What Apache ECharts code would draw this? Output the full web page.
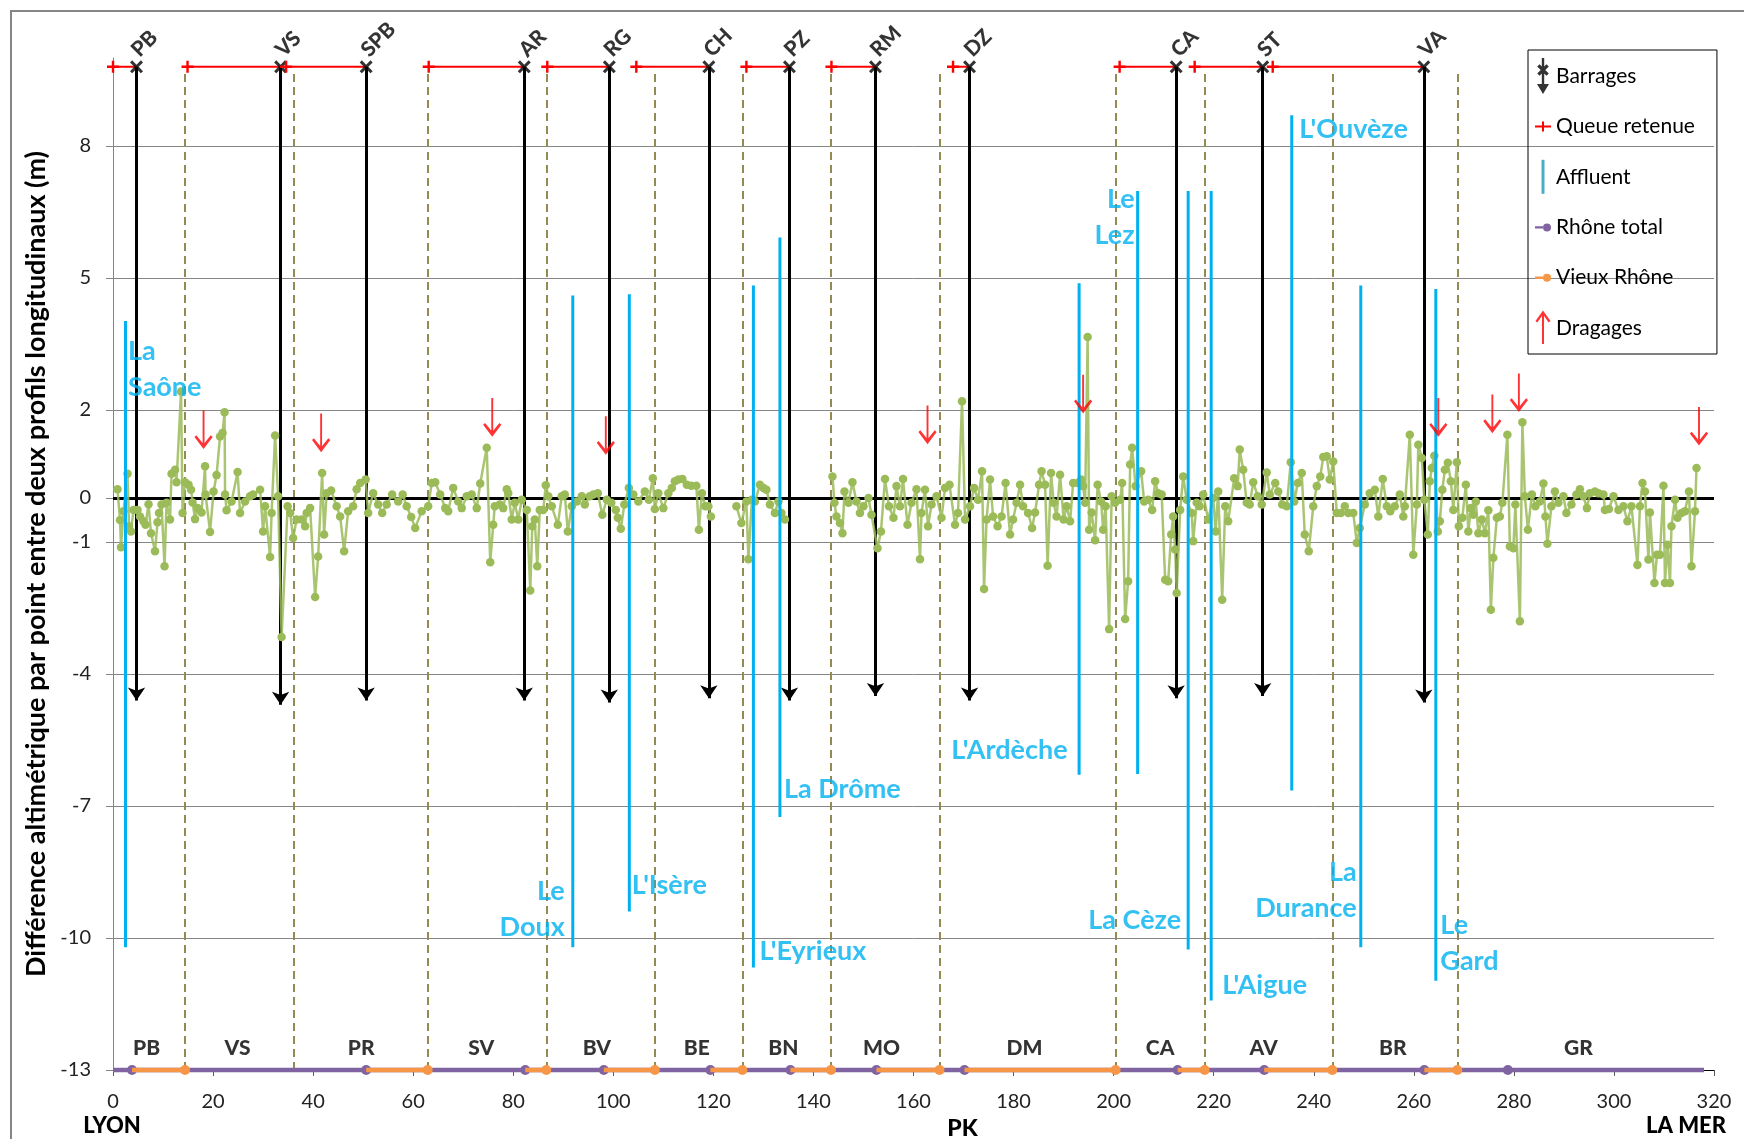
<!DOCTYPE html>
<html>
<head>
<meta charset="utf-8">
<title>Profils en long du Rhône</title>
<script src="https://cdn.jsdelivr.net/npm/echarts@6/dist/echarts.min.js"></script>
<style>
  html, body { margin: 0; padding: 0; background: #fff; }
  #chart { width: 1744px; height: 1139px; }
</style>
</head>
<body>
<div id="chart"></div>
<script>
const FONT = 'Lato, "Open Sans", sans-serif';

// ---- données ----
// écart entre deux profils : [PK (km), différence (m)], null = pas de mesure
const profil = [
  [0.9,0.20],[1.4,-0.50],[1.6,-1.12],[2.1,-0.30],[2.9,0.55],[3.2,-0.64],[3.6,-0.76],[4.1,-0.27],[4.9,-0.27],[5.4,-0.42],
  [6.1,-0.53],[6.5,-0.61],[7.1,-0.14],[7.6,-0.80],[8.4,-1.21],[8.9,-0.55],[9.2,-0.34],[9.7,-0.15],[10.3,-1.55],[10.7,-0.11],
  [11.4,-0.49],[11.7,0.55],[12.4,0.64],[12.7,0.36],[13.6,2.42],[13.9,-0.34],[14.4,0.36],[15.1,0.30],[15.6,0.19],[15.9,-0.10],
  [16.4,-0.48],[16.9,-0.23],[17.7,-0.33],[18.4,0.72],[18.5,0.08],[19.4,-0.77],[20.1,0.15],[20.7,0.52],[21.4,1.40],[21.9,1.48],
  [22.3,1.95],[22.4,0.08],[22.7,-0.28],[23.7,-0.08],[24.9,0.59],[25.4,-0.34],[26.4,-0.08],[27.4,0.04],[28.0,0.08],[29.4,0.19],
  [30.0,-0.76],[30.4,-0.19],[31.4,-1.34],[31.7,-0.34],[32.4,1.42],[33.0,0.04],[33.7,-3.16],[34.9,-0.19],[35.4,-0.34],[36.0,-0.91],
  [36.7,-0.49],[37.7,-0.49],[38.4,-0.64],[38.7,-0.34],[39.4,-0.23],[40.4,-2.25],[41.0,-1.33],[41.8,0.57],[42.2,-0.83],[42.7,0.11],
  [43.6,0.17],[44.7,-0.19],[45.4,-0.42],[46.2,-1.21],[47.0,-0.30],[48.0,-0.19],[48.7,0.20],[49.4,0.34],[50.5,0.42],[51.0,-0.34],
  [52.0,0.11],[53.0,-0.15],[53.8,-0.34],[54.7,-0.15],[55.8,0.08],[57.0,-0.08],[57.9,0.08],[58.7,-0.19],[59.6,-0.43],[60.4,-0.68],
  [61.7,-0.30],[63.0,-0.19],[63.7,0.34],
  [64.4,0.36],[65.4,0.08],[66.4,-0.23],[67.0,-0.30],[68.0,0.23],[69.0,-0.08],[69.7,-0.23],[70.7,0.04],[71.7,0.08],[72.7,-0.23],
  [73.4,0.33],[74.7,1.14],[75.4,-1.46],[76.0,-0.61],[76.3,-0.19],[77.3,-0.15],[78.0,-0.23],[78.7,0.20],[79.0,0.11],[79.7,-0.49],
  [80.3,-0.11],[81.0,-0.49],[81.7,-0.04],[82.7,-0.27],[83.4,-2.10],[83.8,-0.64],[84.3,-0.49],[84.8,-1.55],[85.3,-0.27],[86.0,-0.27],
  [86.5,0.29],[87.0,0.04],[87.7,-0.19],[88.9,-0.61],[89.7,0.04],[90.3,0.08],[90.9,-0.76],[91.7,-0.19],[92.7,-0.08],[93.7,0.04],
  [94.3,-0.15],[95.3,0.04],[96.0,0.08],[96.9,0.11],[97.8,-0.38],[98.7,-0.04],[99.6,-0.11],[100.5,-0.27],[100.9,-0.45],[101.5,-0.70],
  [102.2,-0.15],[103.1,0.23],[104.0,0.08],[105.0,-0.08],[106.3,0.15],[107.1,-0.04],[107.9,0.45],[108.3,-0.25],[109.0,0.11],[110.0,-0.23],
  [111.0,0.11],[111.7,0.23],[112.3,0.38],[113.0,0.42],[113.8,0.43],[114.7,0.30],[115.6,0.28],[116.6,0.28],[117.1,-0.72],[117.7,0.11],
  [118.4,-0.19],[119.0,-0.19],[119.5,-0.42],[122.0,null],
  [124.6,-0.19],[125.6,-0.57],[126.6,-0.08],[127.0,-1.39],[127.7,-0.04],
  [128.3,-0.08],[129.3,0.30],[130.0,0.23],[130.6,0.19],[131.3,-0.15],[132.3,-0.34],[133.0,-0.08],[133.6,-0.34],[134.3,-0.49],[139.0,null],
  [143.8,0.49],[144.2,-0.11],[144.6,-0.42],[145.3,-0.57],[145.8,-0.80],[146.2,0.15],[147.0,-0.11],[147.8,0.36],[148.6,-0.08],[149.3,-0.34],
  [150.0,-0.19],[151.0,0.00],[151.6,-0.38],[152.8,-1.14],[153.5,-0.76],[154.3,0.43],[155.1,-0.19],[156.0,-0.45],[156.6,0.27],[157.3,-0.19],
  [157.9,0.43],[158.8,-0.61],[159.6,-0.11],[160.6,0.20],[161.3,-1.39],[161.6,-0.34],[162.3,0.19],[162.9,-0.64],[163.6,-0.15],[164.6,0.04],
  [165.6,-0.45],[166.3,0.23],[167.2,0.30],[168.3,-0.61],[168.9,-0.34],[169.7,2.20],[170.3,-0.49],[171.3,-0.19],[172.1,0.23],[172.9,-0.04],
  [173.7,0.61],[174.1,-2.07],[174.6,-0.49],[175.3,0.42],[175.9,-0.42],[176.8,-0.64],[177.6,-0.42],[178.4,0.34],[179.3,-0.83],[179.9,-0.49],
  [180.6,-0.11],[181.3,0.30],[181.9,-0.19],[182.9,-0.34],[183.7,-0.68],[184.3,-0.33],[185.1,0.30],[185.6,0.61],[186.3,0.30],[186.8,-1.54],
  [187.5,0.57],[188.0,-0.11],[188.6,-0.42],[189.3,0.53],[190.0,-0.49],[190.6,-0.19],[191.3,-0.53],[191.9,0.34],
  [192.8,0.34],[193.5,0.42],[193.9,0.27],[194.3,-0.11],[194.8,3.66],[195.1,-0.72],[195.6,-0.33],[196.3,-0.96],[196.8,0.30],[197.5,-0.08],
  [197.9,-0.72],[198.4,-0.19],[199.1,-2.98],[199.6,0.04],[200.3,-0.11],[201.3,-0.04],[201.7,0.34],[202.3,-2.75],[202.9,-1.89],[203.3,0.76],
  [203.7,1.14],[204.4,0.27],[205.5,0.61],[206.1,-0.08],[206.9,-0.04],[207.7,-0.27],[208.3,0.38],[208.9,0.11],[209.6,0.08],[210.3,-1.86],
  [210.9,-1.89],[211.5,-0.83],[211.9,-0.42],[212.3,-1.17],[212.6,-2.16],[213.3,-0.27],[213.9,0.49],[214.6,-0.04],[215.6,-0.34],[215.9,-0.98],
  [216.6,-0.11],[217.2,-0.19],[217.9,0.08],[218.9,-0.49],[219.9,0.00],[220.4,-0.76],[220.9,0.15],[221.7,-2.31],[222.3,-0.19],[222.9,-0.53],
  [224.1,0.45],[224.8,0.27],[225.2,1.10],[225.9,0.64],[226.6,-0.11],[227.2,-0.15],[227.9,0.36],[228.8,0.04],[229.6,-0.15],[230.6,0.58],
  [231.2,0.08],[232.3,0.34],[232.9,0.15],[233.7,-0.15],[234.6,-0.19],[235.4,0.81],[236.1,-0.08],[236.8,0.34],[237.6,0.57],[238.2,-0.83],
  [239.0,-1.21],[239.9,-0.19],[240.6,0.27],[241.3,0.49],[241.9,0.93],[242.6,0.95],[243.2,0.42],[243.9,0.83],[244.6,-0.34],[245.4,-0.34],
  [246.2,-0.19],[246.9,-0.34],[247.9,-0.34],[248.6,-1.02],[249.2,-0.68],[250.2,-0.15],[251.2,0.11],[252.2,0.19],[252.9,-0.42],[253.8,0.43],
  [254.6,-0.19],[255.3,-0.30],
  [256.2,-0.19],[257.2,0.08],[257.9,-0.42],[258.2,-0.19],[259.2,1.44],[259.9,-1.29],[260.6,-0.15],[260.9,1.21],[261.6,0.91],[262.1,-0.04],
  [262.8,-0.83],[263.2,0.38],[263.6,0.68],[264.1,0.96],[264.8,-0.76],[265.2,-0.53],[265.7,0.19],[266.2,0.64],[266.8,0.80],[267.4,0.38],
  [267.9,-0.27],[268.6,0.81],[269.0,-0.64],[269.7,-0.45],[270.4,0.30],[270.9,-0.76],[271.4,-0.23],[271.9,-0.38],[272.4,-0.08],[272.9,-0.80],
  [273.6,-0.49],[274.2,-0.80],[274.9,-0.28],[275.4,-2.54],[275.9,-1.36],[276.6,-0.45],[277.2,-0.42],[277.7,-0.11],[278.7,1.44],[279.2,-1.10],
  [279.9,-1.14],[280.3,-0.15],[281.2,-2.80],[281.7,1.72],[282.2,0.04],[282.8,-0.72],[283.6,0.08],[284.3,-0.19],[285.2,-0.08],[285.9,0.33],
  [286.3,-0.42],[286.7,-1.04],[287.5,-0.19],[288.2,0.15],[288.9,-0.11],[289.9,0.04],[290.5,-0.34],[291.5,-0.15],[292.5,0.08],[293.2,0.20],
  [293.9,0.04],[294.6,-0.23],[295.2,0.11],[296.2,0.15],[296.9,0.11],[297.9,0.08],[298.2,-0.27],[299.0,-0.25],[299.9,0.04],[300.9,-0.27],
  [301.9,-0.19],[302.7,-0.53],[303.5,-0.19],[304.7,-1.52],[305.2,-0.19],[305.7,0.34],[306.2,0.15],[306.9,-1.40],[307.2,-0.33],[308.1,-1.93],
  [308.6,-1.29],[309.2,-1.29],[309.9,0.28],[310.2,-1.93],[310.7,-1.06],[311.2,-1.93],[311.5,-0.64],[312.2,-0.04],[312.7,-0.45],[313.5,-0.34],
  [314.2,-0.30],[315.0,0.15],[315.5,-1.55],[316.2,-0.30],[316.5,0.68]
];

// barrages
const barrageNoms = ['PB', 'VS', 'SPB', 'AR', 'RG', 'CH', 'PZ', 'RM', 'DZ', 'CA', 'ST', 'VA'];
const barragePk = [4.7, 33.5, 50.6, 82.2, 99.2, 119.1, 135.2, 152.4, 171.2, 212.5, 229.8, 262.0];
const barrageBas = [-4.6, -4.7, -4.6, -4.6, -4.65, -4.55, -4.6, -4.5, -4.6, -4.55, -4.5, -4.65];
const niveauCrete = 9.8;

// queues de retenue (début de chaque retenue, fin = barrage suivant)
const queuePk = [0, 14.9, 34.6, 63.1, 86.8, 104.6, 126.6, 143.6, 167.9, 201.2, 216.2, 231.8];

// tronçons
const troncons = ['PB', 'VS', 'PR', 'SV', 'BV', 'BE', 'BN', 'MO', 'DM', 'CA', 'AV', 'BR', 'GR'];
const tronconCentre = [6.7, 24.9, 49.6, 73.6, 96.7, 116.7, 134.0, 153.6, 182.2, 209.3, 230.0, 255.8, 292.9];
const limitesTroncons = [14.4, 36.2, 62.9, 86.6, 108.3, 125.8, 143.5, 165.2, 200.4, 218.2, 243.7, 268.7];
const niveauTroncon = -12.5;
const hautLimites = 9.65;

// affluents
const affluentTexte = ['La\nSaône', 'Le\nDoux', "L'Isère", "L'Eyrieux", 'La Drôme', "L'Ardèche",
  'Le\nLez', 'La Cèze', "L'Aigue", "L'Ouvèze", 'La\nDurance', 'Le\nGard'];
const affluentPk = [2.5, 91.9, 103.2, 128.0, 133.3, 193.1, 204.8, 214.9, 219.5, 235.6, 249.4, 264.4];
const affluentHaut = [4.02, 4.6, 4.63, 4.83, 5.92, 4.88, 6.98, 6.98, 6.98, 8.7, 4.83, 4.75];
const affluentBas = [-10.21, -10.21, -9.4, -10.67, -7.25, -6.29, -6.27, -10.26, -11.42, -6.65, -10.21, -10.97];

// dragages
const dragagePk = [18.1, 41.6, 75.8, 98.5, 162.8, 193.9, 264.9, 275.7, 281.0, 317.0];
const dragageHaut = [1.99, 1.92, 2.27, 1.86, 2.1, 2.8, 2.27, 2.35, 2.83, 2.07];

// Rhône total / Vieux Rhône (ligne de base)
const niveauBase = -13;
const rhoneTotalPk = [0, 3.8, 50.6, 82.4, 98.1, 119.4, 135.4, 152.6, 170.2, 212.8, 230.1, 262.1, 278.8, 318];
const vieuxRhoneDebut = [3.8, 50.6, 82.4, 98.1, 119.4, 135.4, 152.6, 170.2, 212.8, 230.1, 262.1];
const vieuxRhoneFin = [14.4, 62.9, 86.6, 108.3, 125.8, 143.5, 165.2, 200.4, 218.2, 243.7, 268.7];

// axe Y
const yLabels = [-13, -10, -7, -4, -1, 0, 2, 5, 8];
const yGrille = [-10, -7, -4, -1, 2, 5, 8];

// ---- placement des étiquettes d'affluents : [pk, valeur, côté] ----
const affluentEtiquette = [
  [3.0, 2.93, 'right'], [90.3, -9.35, 'left'], [103.7, -8.8, 'right'], [129.2, -10.31, 'right'],
  [134.1, -6.62, 'right'], [190.8, -5.74, 'left'], [204.2, 6.37, 'left'], [213.5, -9.6, 'left'],
  [221.7, -11.07, 'right'], [237.1, 8.37, 'right'], [248.6, -8.92, 'left'], [265.3, -10.11, 'right']
];

// ---- symboles ----
const SYM_X = 'path://M2 0L6 4L10 0L12 2L8 6L12 10L10 12L6 8L2 12L0 10L4 6L0 2Z';
const SYM_PLUS = 'path://M4 0h2v4h4v2h-4v4h-2v-4h-4v-2h4z';
const SYM_DRAGAGE = 'path://M0 0M20 40M9 0h2v36h-2zM0.4 27.2L2.4 25.4L10 34.6L17.6 25.4L19.6 27.2L10 39.6Z';
const ICON_BARRAGE = 'path://M0 0M16 36M6.8 0h2.4v27h-2.4zM2 26h12l-6 10zM2.2 8.6L4.6 6.2L13.8 15.4L11.4 17.8ZM11.4 6.2L13.8 8.6L4.6 17.8L2.2 15.4Z';
const ICON_QUEUE = 'path://M0 0M16 36M0 17h16v2h-16zM7 13h2v10h-2z';
const ICON_AFFLUENT = 'path://M0 0M16 36M6.5 1h3v34h-3z';
const ICON_RHONE = 'path://M0 0M16 36M0 17h8.2v2.4h-8.2zM8 18.2a4 4 0 1 0 8 0a4 4 0 1 0 -8 0z';
const ICON_DRAGAGE = 'path://M0 0M16 36M8 0.4L15.5 11L13.7 12.6L8 4.6L2.3 12.6L0.5 11ZM7 4.6h2v29.4h-2z';

const chart = echarts.init(document.getElementById('chart'));

const option = {
  animation: false,
  textStyle: { fontFamily: FONT },
  graphic: [
    { type: 'rect', z: -10, silent: true,
      shape: { x: 11, y: 11, width: 1800, height: 1200 },
      style: { fill: 'none', stroke: '#868686', lineWidth: 2 } },
    { type: 'text', x: 112, y: 1126, silent: true,
      style: { text: 'LYON', font: '900 22px ' + FONT, fill: '#000', align: 'center', verticalAlign: 'middle' } },
    { type: 'text', x: 1686, y: 1126, silent: true,
      style: { text: 'LA MER', font: '900 22px ' + FONT, fill: '#000', align: 'center', verticalAlign: 'middle' } }
  ],
  grid: { left: 113, right: 30, top: 58, bottom: 69, outerBoundsMode: 'none' },
  legend: {
    orient: 'vertical',
    left: 1528,
    top: 50,
    itemWidth: 16,
    itemHeight: 36,
    itemGap: 14.4,
    padding: [8, 22, 8, 7],
    borderColor: '#000',
    borderWidth: 1,
    selectedMode: false,
    textStyle: { fontFamily: FONT, fontSize: 21, color: '#000' },
    data: [
      { name: 'Barrages', icon: ICON_BARRAGE },
      { name: 'Queue retenue', icon: ICON_QUEUE },
      { name: 'Affluent', icon: ICON_AFFLUENT, itemStyle: { color: '#4BACC6' } },
      { name: 'Rhône total', icon: ICON_RHONE },
      { name: 'Vieux Rhône', icon: ICON_RHONE },
      { name: 'Dragages', icon: ICON_DRAGAGE }
    ]
  },
  xAxis: {
    type: 'value',
    min: 0,
    max: 320,
    interval: 20,
    name: 'PK',
    nameLocation: 'middle',
    nameGap: 45,
    nameTextStyle: { fontFamily: FONT, fontSize: 23, fontWeight: 900, color: '#000', padding: [0, 0, 0, 98] },
    axisLine: { onZero: false, lineStyle: { color: '#000', width: 1 } },
    axisTick: { show: true, length: 6, lineStyle: { color: '#595959' } },
    axisLabel: { fontFamily: FONT, fontSize: 20, color: '#222', margin: 22 },
    splitLine: { show: false }
  },
  yAxis: {
    type: 'value',
    min: -13,
    max: 10,
    interval: 1,
    name: 'Différence altimétrique par point entre deux profils longitudinaux (m)',
    nameLocation: 'middle',
    nameGap: 62,
    nameTextStyle: { fontFamily: FONT, fontSize: 27, fontWeight: 'bold', color: '#000' },
    axisLine: { show: true, lineStyle: { color: '#868686', width: 1 } },
    axisTick: { show: true, length: 7, customValues: yLabels, lineStyle: { color: '#868686' } },
    axisLabel: { fontFamily: FONT, fontSize: 20, color: '#222', margin: 22, customValues: yLabels },
    splitLine: { show: false }
  },
  series: [
    // tronçons + limites
    {
      type: 'scatter',
      name: 'tronçons',
      silent: true,
      z: 8,
      symbolSize: 0,
      data: troncons.map((t, i) => ({ name: t, value: [tronconCentre[i], niveauTroncon] })),
      label: { show: true, position: 'inside', formatter: '{b}', fontFamily: FONT, fontSize: 21, fontWeight: 900, color: '#000' },
      markLine: {
        silent: true, z: 2, symbol: 'none', animation: false,
        label: { show: false },
        lineStyle: { color: '#948A54', width: 2, type: [8, 5] },
        data: limitesTroncons.map(x => [{ coord: [x, niveauBase] }, { coord: [x, hautLimites] }])
      }
    },
    // étiquettes des affluents + grille
    {
      type: 'scatter',
      name: 'étiquettes affluents',
      silent: true,
      z: 8,
      symbolSize: 0,
      data: affluentTexte.map((t, i) => ({
        name: t,
        value: [affluentEtiquette[i][0], affluentEtiquette[i][1]],
        label: { position: affluentEtiquette[i][2] }
      })),
      label: {
        show: true, formatter: '{b}', distance: 0,
        fontFamily: FONT, fontSize: 27, fontWeight: 'bold', color: '#00B0F0', lineHeight: 36
      },
      markLine: {
        silent: true, z: 1, symbol: 'none', animation: false,
        label: { show: false },
        lineStyle: { color: '#868686', width: 1, type: 'solid' },
        data: yGrille.map(v => ({ yAxis: v }))
      }
    },
    // profil en long
    {
      type: 'line',
      name: 'Écart',
      z: 4,
      color: '#9BBB59',
      symbol: 'circle',
      symbolSize: 8.5,
      connectNulls: false,
      lineStyle: { width: 2.5, color: 'rgba(155,187,89,0.85)' },
      data: profil.map(([x, y]) => [x, y === null ? '-' : y]),
      markLine: {
        silent: true, z: 3, symbol: 'none', animation: false,
        label: { show: false },
        lineStyle: { color: '#000', width: 3, type: 'solid' },
        data: [{ yAxis: 0 }]
      }
    },
    // affluents
    {
      type: 'line',
      name: 'Affluent',
      z: 5,
      color: '#00B0F0',
      symbol: 'none',
      connectNulls: false,
      lineStyle: { width: 3, color: '#00B0F0' },
      data: affluentPk.flatMap((x, i) => [[x, affluentHaut[i]], [x, affluentBas[i]], [x, '-']])
    },
    // barrages
    {
      type: 'scatter',
      name: 'Barrages',
      z: 6,
      color: '#000',
      symbol: SYM_X,
      symbolSize: 13,
      data: barrageNoms.map((n, i) => ({ name: n, value: [barragePk[i], niveauCrete] })),
      label: {
        show: true, formatter: '{b}', position: [5, -7], rotate: 45,
        align: 'left', verticalAlign: 'middle',
        fontFamily: FONT, fontSize: 21, fontWeight: 900, color: '#000'
      },
      markLine: {
        silent: true, z: 3, symbol: ['none', 'arrow'], symbolSize: 13, animation: false,
        label: { show: false },
        lineStyle: { color: '#000', width: 3, type: 'solid' },
        data: barragePk.map((x, i) => [{ coord: [x, niveauCrete] }, { coord: [x, barrageBas[i]] }])
      }
    },
    // queues de retenue
    {
      type: 'line',
      name: 'Queue retenue',
      z: 6,
      color: '#FF0000',
      symbol: SYM_PLUS,
      symbolSize: 12,
      connectNulls: false,
      clip: false,
      lineStyle: { width: 2, color: '#FF0000' },
      data: queuePk.flatMap((x, i) => [
        { value: [x, niveauCrete] },
        { value: [barragePk[i], niveauCrete], symbol: 'none' },
        { value: [barragePk[i], '-'] }
      ])
    },
    // Rhône total
    {
      type: 'line',
      name: 'Rhône total',
      z: 6,
      color: '#8064A2',
      symbol: 'circle',
      symbolSize: 10,
      clip: false,
      lineStyle: { width: 4.5, color: '#8064A2' },
      data: rhoneTotalPk.map((x, i) => (i === 0 || i === rhoneTotalPk.length - 1)
        ? { value: [x, niveauBase], symbol: 'none' }
        : { value: [x, niveauBase] })
    },
    // Vieux Rhône
    {
      type: 'line',
      name: 'Vieux Rhône',
      z: 7,
      color: '#F79646',
      symbol: 'circle',
      symbolSize: 10,
      clip: false,
      connectNulls: false,
      lineStyle: { width: 4.5, color: '#F79646' },
      data: vieuxRhoneDebut.flatMap((x, i) => [
        { value: [x, niveauBase], symbol: 'none' },
        { value: [vieuxRhoneFin[i], niveauBase] },
        { value: [vieuxRhoneFin[i], '-'] }
      ])
    },
    // dragages
    {
      type: 'scatter',
      name: 'Dragages',
      z: 7,
      color: '#FF0000',
      symbol: SYM_DRAGAGE,
      symbolSize: [19, 39],
      symbolOffset: [0, '50%'],
      data: dragagePk.map((x, i) => [x, dragageHaut[i]])
    }
  ]
};

chart.setOption(option);
window.onresize = function () {
  chart.resize();
};
</script>
</body>
</html>
